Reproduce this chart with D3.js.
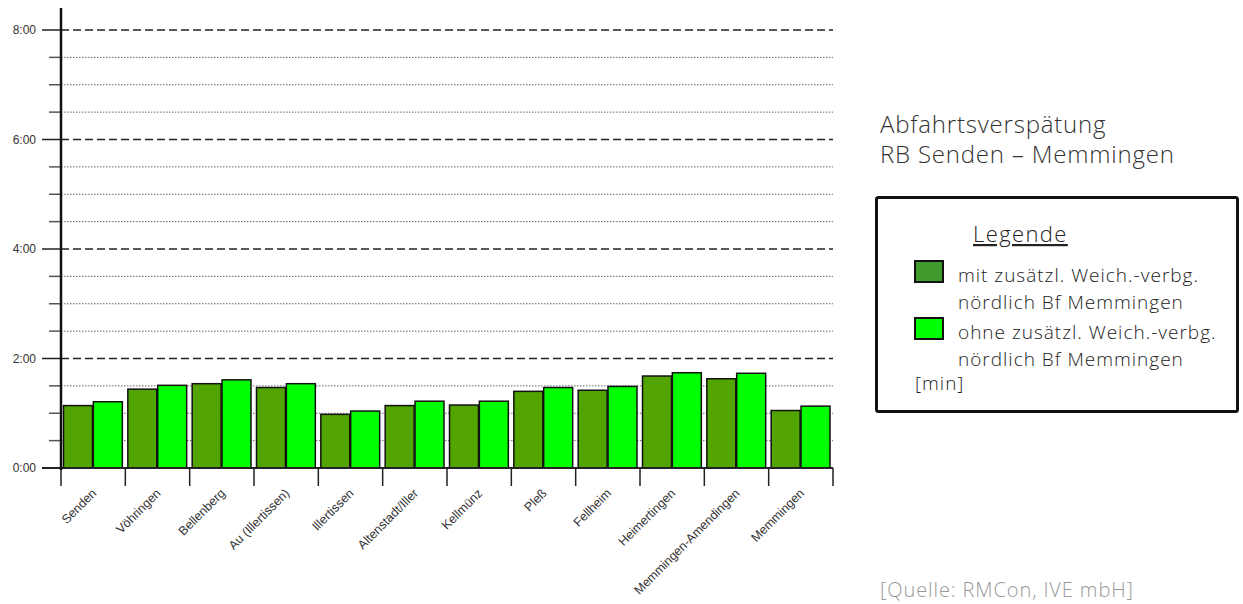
<!DOCTYPE html>
<html>
<head>
<meta charset="utf-8">
<script src="https://cdn.jsdelivr.net/npm/d3@7"></script>
<style>
  html, body { margin: 0; padding: 0; background: #fff; }
  svg { display: block; }
  .side { font-family: "Open Sans", Lato, sans-serif; font-weight: 300; }
</style>
</head>
<body>
<svg id="chart" width="1243" height="604"></svg>
<script>
// Stations along the line
const stations = [
  "Senden", "Vöhringen", "Bellenberg", "Au (Illertissen)", "Illertissen",
  "Altenstadt/Iller", "Kellmünz", "Pleß", "Fellheim", "Heimertingen",
  "Memmingen-Amendingen", "Memmingen"
];
// Departure delay [min], with additional crossover north of Memmingen station
const withCrossover = [1.14, 1.44, 1.54, 1.47, 0.98, 1.14, 1.15, 1.40, 1.42, 1.68, 1.63, 1.05];
// Departure delay [min], without additional crossover
const withoutCrossover = [1.21, 1.51, 1.61, 1.54, 1.04, 1.22, 1.22, 1.47, 1.49, 1.74, 1.73, 1.13];
const seriesKeys = ["mit", "ohne"];
const seriesNames = [
  ["mit zusätzl. Weich.-verbg.", "nördlich Bf Memmingen"],
  ["ohne zusätzl. Weich.-verbg.", "nördlich Bf Memmingen"]
];
const majorTicks = [0, 2, 4, 6, 8];
const majorTickLabels = ["0:00", "2:00", "4:00", "6:00", "8:00"];
const minorTicks = [0.5, 1, 1.5, 2.5, 3, 3.5, 4.5, 5, 5.5, 6.5, 7, 7.5];
const titleLines = ["Abfahrtsverspätung", "RB Senden – Memmingen"];
const legendTitle = "Legende";
const unitLabel = "[min]";
const sourceLabel = "[Quelle: RMCon, IVE mbH]";

const barColors = { mit: "#52a500", ohne: "#00ff00" };
const swatchColors = { mit: "#3f9b2b", ohne: "#00ff00" };

const rows = stations.map((s, i) => ({ station: s, mit: withCrossover[i], ohne: withoutCrossover[i] }));

const svg = d3.select("#chart");
const axisX = 61, plotRight = 833, zeroY = 468, topY = 30;

const y = d3.scaleLinear().domain([0, 8]).range([zeroY, topY]);
const x0 = d3.scaleBand().domain(stations).range([axisX, plotRight]).paddingInner(0).paddingOuter(0);
const x1 = d3.scaleBand().domain(seriesKeys).range([2.5, x0.bandwidth() - 3]).paddingInner(0.03);

// minor gridlines (dotted)
svg.append("g").selectAll("line").data(minorTicks).join("line")
  .attr("x1", axisX).attr("x2", plotRight)
  .attr("y1", d => y(d)).attr("y2", d => y(d))
  .attr("stroke", "#666").attr("stroke-width", 1).attr("stroke-dasharray", "1.5,1.5");
// minor tick marks on the left
svg.append("g").selectAll("line").data(minorTicks).join("line")
  .attr("x1", 49).attr("x2", axisX)
  .attr("y1", d => y(d)).attr("y2", d => y(d))
  .attr("stroke", "#555").attr("stroke-width", 1.5);

// major gridlines (dashed)
svg.append("g").selectAll("line").data(majorTicks.filter(d => d > 0)).join("line")
  .attr("x1", axisX).attr("x2", plotRight)
  .attr("y1", d => y(d)).attr("y2", d => y(d))
  .attr("stroke", "#222").attr("stroke-width", 1.5).attr("stroke-dasharray", "8,4");
svg.append("g").selectAll("line").data(majorTicks).join("line")
  .attr("x1", 42).attr("x2", axisX)
  .attr("y1", d => y(d)).attr("y2", d => y(d))
  .attr("stroke", "#222").attr("stroke-width", 1.5);

// y tick labels
svg.append("g").selectAll("text").data(majorTicks).join("text")
  .attr("x", 36).attr("y", d => y(d)).attr("dy", "0.35em")
  .attr("text-anchor", "end")
  .attr("font-family", "Liberation Sans, Arial, sans-serif")
  .attr("font-size", 12).attr("fill", "#333")
  .text((d, i) => majorTickLabels[i]);

// bars
const groups = svg.append("g").selectAll("g").data(rows).join("g")
  .attr("transform", d => `translate(${x0(d.station)},0)`);
groups.selectAll("rect").data(d => seriesKeys.map(k => ({ key: k, value: d[k] }))).join("rect")
  .attr("x", d => x1(d.key))
  .attr("width", x1.bandwidth())
  .attr("y", d => y(d.value))
  .attr("height", d => zeroY - y(d.value))
  .attr("fill", d => barColors[d.key])
  .attr("stroke", "#111").attr("stroke-width", 1.5);

// x axis baseline and category ticks
svg.append("line").attr("x1", 42).attr("x2", plotRight).attr("y1", zeroY).attr("y2", zeroY)
  .attr("stroke", "#222").attr("stroke-width", 1.8);
const tickXs = stations.map(s => x0(s)).concat([plotRight]);
svg.append("g").selectAll("line").data(tickXs).join("line")
  .attr("x1", d => d).attr("x2", d => d)
  .attr("y1", zeroY).attr("y2", zeroY + 18)
  .attr("stroke", "#222").attr("stroke-width", 1.5);

// y axis line
svg.append("line").attr("x1", axisX).attr("x2", axisX).attr("y1", 8).attr("y2", zeroY + 2)
  .attr("stroke", "#111").attr("stroke-width", 2.5);

// rotated station labels
svg.append("g").selectAll("text").data(stations).join("text")
  .attr("transform", d => `translate(${x0(d) + x0.bandwidth() / 2 + 4},${zeroY + 26}) rotate(-45)`)
  .attr("text-anchor", "end")
  .attr("font-family", "Liberation Sans, Arial, sans-serif")
  .attr("font-size", 12.5).attr("fill", "#333")
  .text(d => d);

// title on the right
svg.append("g").selectAll("text").data(titleLines).join("text")
  .attr("class", "side")
  .attr("x", 880).attr("y", (d, i) => 133 + i * 30)
  .attr("font-size", 24).attr("letter-spacing", 0.8).attr("fill", "#333")
  .text(d => d);

// legend box
const lg = svg.append("g");
lg.append("rect").attr("x", 876.5).attr("y", 197.5).attr("width", 361).attr("height", 214)
  .attr("rx", 2).attr("fill", "#fff").attr("stroke", "#111").attr("stroke-width", 3);
lg.append("text").attr("class", "side")
  .attr("x", 973).attr("y", 242).attr("font-size", 22).attr("letter-spacing", 1.4).attr("fill", "#222")
  .attr("text-decoration", "underline")
  .text(legendTitle);
seriesKeys.forEach((k, i) => {
  const top = 261 + i * 57;
  lg.append("rect").attr("x", 915).attr("y", top).attr("width", 28).attr("height", 21)
    .attr("fill", swatchColors[k]).attr("stroke", "#111").attr("stroke-width", 2);
  seriesNames[i].forEach((line, j) => {
    lg.append("text").attr("class", "side")
      .attr("x", 958).attr("y", top + 20.5 + j * 27.5)
      .attr("font-size", 19).attr("letter-spacing", 1).attr("fill", "#222")
      .text(line);
  });
});
lg.append("text").attr("class", "side")
  .attr("x", 915).attr("y", 390).attr("font-size", 19).attr("letter-spacing", 1).attr("fill", "#222")
  .text(unitLabel);

// source note
svg.append("text").attr("class", "side")
  .attr("x", 880).attr("y", 597).attr("font-size", 20).attr("letter-spacing", 0.9).attr("fill", "#999")
  .text(sourceLabel);
</script>
</body>
</html>
